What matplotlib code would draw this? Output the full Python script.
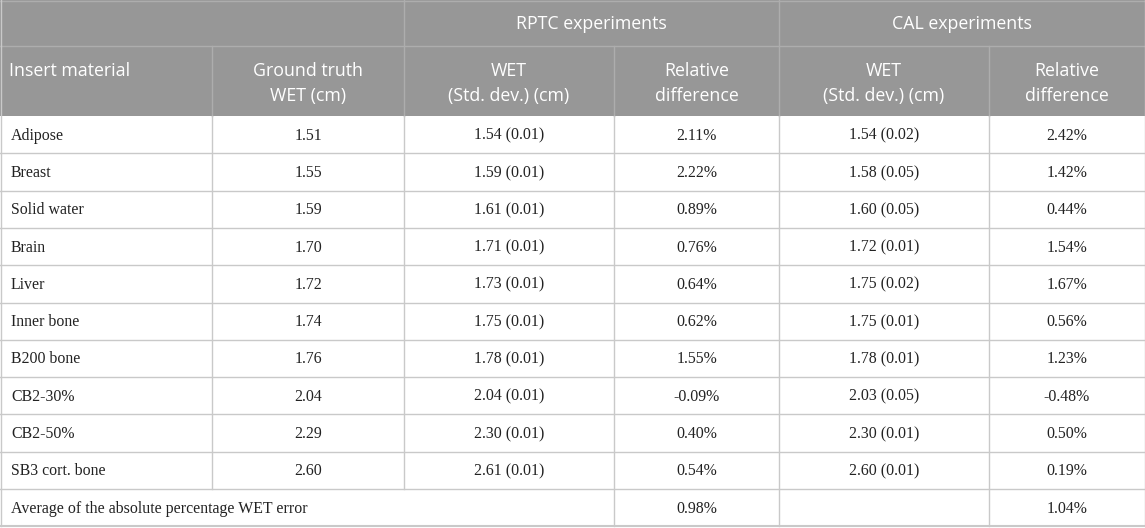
import matplotlib.pyplot as plt
from matplotlib.patches import Rectangle

# table content
materials = ['Adipose', 'Breast', 'Solid water', 'Brain', 'Liver', 'Inner bone',
             'B200 bone', 'CB2-30%', 'CB2-50%', 'SB3 cort. bone']
ground_truth = ['1.51', '1.55', '1.59', '1.70', '1.72', '1.74', '1.76', '2.04', '2.29', '2.60']
rptc_wet = ['1.54 (0.01)', '1.59 (0.01)', '1.61 (0.01)', '1.71 (0.01)', '1.73 (0.01)',
            '1.75 (0.01)', '1.78 (0.01)', '2.04 (0.01)', '2.30 (0.01)', '2.61 (0.01)']
rptc_rel = ['2.11%', '2.22%', '0.89%', '0.76%', '0.64%', '0.62%', '1.55%', '-0.09%', '0.40%', '0.54%']
cal_wet = ['1.54 (0.02)', '1.58 (0.05)', '1.60 (0.05)', '1.72 (0.01)', '1.75 (0.02)',
           '1.75 (0.01)', '1.78 (0.01)', '2.03 (0.05)', '2.30 (0.01)', '2.60 (0.01)']
cal_rel = ['2.42%', '1.42%', '0.44%', '1.54%', '1.67%', '0.56%', '1.23%', '-0.48%', '0.50%', '0.19%']
avg_label = 'Average of the absolute percentage WET error'
avg_rptc = '0.98%'
avg_cal = '1.04%'

group_headers = ['RPTC experiments', 'CAL experiments']
col_headers = ['Insert material', 'Ground truth\nWET (cm)', 'WET\n(Std. dev.) (cm)',
               'Relative\ndifference', 'WET\n(Std. dev.) (cm)', 'Relative\ndifference']

#%% layout (pixels)
W, H = 1145, 528
xs = [0, 212, 404, 614, 779, 989, 1145]
h1, h2 = 46, 116
rh = 37.3

head_bg = '#979797'
head_line = '#adadad'
body_line = '#c9c9c9'
sans = {'family': 'Open Sans', 'color': 'white', 'fontsize': 12.8}
serif = {'family': 'Liberation Serif', 'color': '#222222', 'fontsize': 11.4}

fig = plt.figure(figsize=(W / 100, H / 100), dpi=100)
ax = fig.add_axes([0, 0, 1, 1])
ax.set_xlim(0, W)
ax.set_ylim(H, 0)
ax.axis('off')

# header background
ax.add_patch(Rectangle((0, 0), W, h2, color=head_bg, lw=0))
ax.plot([0, W], [h1, h1], color=head_line, lw=1)
for x in [xs[2], xs[4]]:
    ax.plot([x, x], [0, h2], color=head_line, lw=1)
for x in [xs[1], xs[3], xs[5]]:
    ax.plot([x, x], [h1, h2], color=head_line, lw=1)
ax.plot([0, W], [0.5, 0.5], color=head_line, lw=1)

ax.text((xs[2] + xs[4]) / 2, h1 / 2 + 1, group_headers[0], ha='center', va='center', **sans)
ax.text((xs[4] + xs[6]) / 2, h1 / 2 + 1, group_headers[1], ha='center', va='center', **sans)
for i, lab in enumerate(col_headers):
    if i == 0:
        ax.text(9, 71, lab, ha='left', va='center', **sans)
    else:
        ax.text((xs[i] + xs[i + 1]) / 2, 83.5, lab, ha='center', va='center',
                linespacing=1.45, **sans)

# body rows
cols = [ground_truth, rptc_wet, rptc_rel, cal_wet, cal_rel]
n = len(materials)
for r in range(n):
    yc = h2 + rh * (r + 0.5) + 1
    ax.text(11, yc, materials[r], ha='left', va='center', **serif)
    for c, vals in enumerate(cols):
        ax.text((xs[c + 1] + xs[c + 2]) / 2, yc, vals[r], ha='center', va='center', **serif)

ya = h2 + rh * (n + 0.5) + 1
ax.text(11, ya, avg_label, ha='left', va='center', **serif)
ax.text((xs[3] + xs[4]) / 2, ya, avg_rptc, ha='center', va='center', **serif)
ax.text((xs[5] + xs[6]) / 2, ya, avg_cal, ha='center', va='center', **serif)

# grid lines
ybot = h2 + rh * (n + 1)
for r in range(1, n + 1):
    y = h2 + rh * r
    ax.plot([0, W], [y, y], color=body_line, lw=1)
ax.plot([0, W], [ybot, ybot], color=body_line, lw=1.5)
ymid = h2 + rh * n
for x in [xs[1], xs[2]]:
    ax.plot([x, x], [h2, ymid], color=body_line, lw=1)
for x in [xs[3], xs[4], xs[5]]:
    ax.plot([x, x], [h2, ybot], color=body_line, lw=1)
ax.plot([0.5, 0.5], [0, ybot], color=body_line, lw=1)
ax.plot([W - 0.5, W - 0.5], [0, ybot], color=body_line, lw=1)

fig.savefig('out.png', dpi=100)
